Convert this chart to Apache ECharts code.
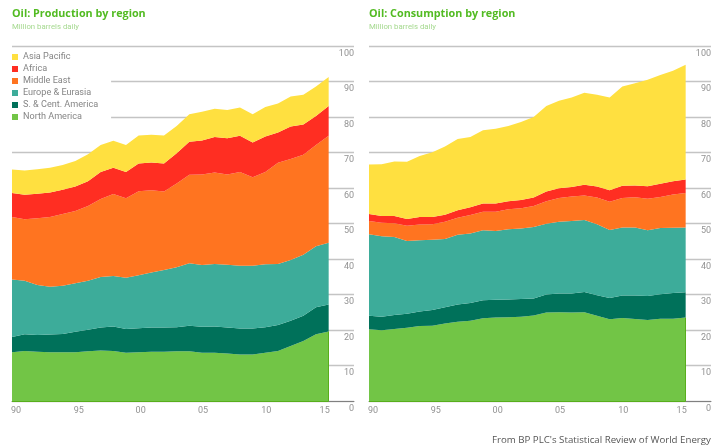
<!DOCTYPE html>
<html>
<head>
<meta charset="utf-8">
<style>html,body{margin:0;padding:0;background:#fff}#chart{width:720px;height:447px}</style>
<script src="https://cdn.jsdelivr.net/npm/echarts@6/dist/echarts.min.js"></script>
</head>
<body>
<div id="chart"></div>
<script>
const years = ['1990','1991','1992','1993','1994','1995','1996','1997','1998','1999','2000','2001','2002','2003','2004','2005','2006','2007','2008','2009','2010','2011','2012','2013','2014','2015'];
// two empty slots after 2015 so the gridlines run on past the areas, under the value labels
const axisYears = [...years, '2016', '2017'];
const regions = ['North America','S. & Cent. America','Europe & Eurasia','Middle East','Africa','Asia Pacific'];
const colors = ['#72c546','#00715a','#3dac9a','#ff7420','#ff2e22','#ffe040'];

const prodNorthAmerica = [13.7,14.1,13.9,13.7,13.7,13.7,14.0,14.2,14.1,13.6,13.7,13.9,13.9,14.0,14.0,13.6,13.6,13.4,13.1,13.1,13.6,14.1,15.5,16.9,18.8,19.6];
const prodSouthCentral = [4.3,4.7,4.7,5.0,5.2,5.8,6.1,6.5,6.9,6.7,6.8,6.8,6.8,6.8,7.2,7.3,7.4,7.3,7.3,7.3,7.2,7.3,7.1,7.1,7.6,7.6];
const prodEurope = [16.2,15.1,14.1,13.5,13.6,13.7,13.8,14.2,14.2,14.4,14.9,15.5,16.2,16.9,17.6,17.4,17.6,17.7,17.7,17.7,17.7,17.2,17.1,17.2,17.2,17.4];
const prodMiddleEast = [17.6,17.3,18.8,19.6,20.2,20.3,21.0,22.0,23.1,22.4,23.7,23.2,22.1,23.6,24.9,25.5,25.8,25.4,26.4,24.9,26.0,28.5,28.5,28.2,28.5,30.1];
const prodAfrica = [6.8,6.9,6.9,6.9,6.8,6.9,7.0,7.6,7.4,7.4,7.8,7.8,7.9,8.5,9.3,9.6,10.0,10.2,10.2,9.8,10.0,8.5,9.1,8.5,8.2,8.4];
const prodAsia = [6.6,6.8,6.9,7.0,7.0,7.2,7.6,7.6,7.6,7.6,7.9,7.8,7.9,7.7,7.8,8.1,7.9,8.0,8.0,8.0,8.3,8.2,8.5,8.4,8.3,8.2];

const consNorthAmerica = [20.2,19.9,20.3,20.6,21.1,21.2,21.8,22.3,22.6,23.3,23.5,23.6,23.7,24.1,24.9,25.0,24.9,25.0,24.0,23.0,23.4,23.1,22.8,23.2,23.2,23.5];
const consSouthCentral = [3.8,3.8,3.9,4.0,4.1,4.4,4.6,4.9,5.0,5.1,5.0,5.0,5.0,4.8,5.1,5.3,5.4,5.7,5.8,6.0,6.3,6.6,6.8,6.9,7.2,7.1];
const consEurope = [23.0,22.7,22.0,20.5,20.1,19.8,19.2,19.6,19.6,19.7,19.4,19.8,19.9,20.1,19.9,20.2,20.4,20.3,20.0,19.2,19.2,19.2,18.5,18.6,18.4,18.3];
const consMiddleEast = [3.7,3.8,3.9,4.3,4.4,4.4,4.9,4.8,5.2,5.2,5.4,5.6,5.7,5.9,6.4,6.7,6.9,6.9,7.5,7.9,8.3,8.5,8.9,8.8,9.4,9.7];
const consAfrica = [2.0,1.9,2.0,1.9,2.1,2.0,2.0,2.1,2.2,2.3,2.3,2.3,2.3,2.4,2.7,2.7,2.7,3.0,3.1,3.3,3.4,3.3,3.5,3.7,3.7,3.8];
const consAsia = [13.9,14.6,15.4,16.1,17.2,18.3,19.2,20.1,19.8,20.7,21.1,21.2,22.0,22.7,24.1,24.7,25.2,25.9,25.9,26.1,28.0,28.8,30.0,30.6,31.1,32.3];

const production = [prodNorthAmerica, prodSouthCentral, prodEurope, prodMiddleEast, prodAfrica, prodAsia];
const consumption = [consNorthAmerica, consSouthCentral, consEurope, consMiddleEast, consAfrica, consAsia];

const labelFont = 'Roboto, sans-serif';
const greyText = '#929292';

// the year labels drift in from the tick positions, first one flush left, last flush right
const yearLabel = (v) => '{y' + v + '|' + v.slice(2) + '}';
const yearRich = {
    y1990: { padding: [0, 0, 0, 8] },
    y1995: { padding: [0, 0, 0, 7] },
    y2000: { padding: [0, 0, 0, 4] },
    y2005: { padding: [0, 0, 0, 2] },
    y2010: { padding: [0, 0, 0, 2] },
    y2015: { padding: [0, 8, 0, 0] }
};

const makeAxes = (idx) => ({
    x: {
        gridIndex: idx, type: 'category', data: axisYears, boundaryGap: false,
        axisLine: { show: true, onZero: false, lineStyle: { color: '#808080', width: 1 } },
        axisTick: { show: false }, splitLine: { show: false },
        axisLabel: {
            interval: (i) => i % 5 === 0 && i < years.length,
            formatter: yearLabel, rich: yearRich, color: greyText, fontFamily: labelFont, fontSize: 9, margin: 5
        }
    },
    y: {
        gridIndex: idx, type: 'value', position: 'right', min: 0, max: 100, interval: 10,
        axisLine: { show: false }, axisTick: { show: false },
        splitLine: { show: true, lineStyle: { color: '#c4c4c4', width: 1.3 } },
        axisLabel: { inside: true, margin: 0, align: 'right', verticalAlign: 'top', padding: [3, 0, 0, 0], color: greyText, fontFamily: labelFont, fontSize: 9 }
    }
});

// darker green edge along the bottom and right of the lowest area
const greenEdge = (values) => {
    const last = years[years.length - 1];
    return {
        silent: true, symbol: 'none', label: { show: false },
        lineStyle: { color: '#58ae1c', width: 1, type: 'solid' },
        data: [
            [{ coord: [years[0], 0] }, { coord: [last, 0] }],
            [{ coord: [last, 0] }, { coord: [last, values[values.length - 1]] }]
        ]
    };
};

const makeSeries = (table, idx) => regions.map((name, i) => ({
    name,
    type: 'line',
    xAxisIndex: idx,
    yAxisIndex: idx,
    stack: 'total' + idx,
    showSymbol: false,
    silent: true,
    color: colors[i],
    lineStyle: { width: 0 },
    areaStyle: { color: colors[i], opacity: 1 },
    markLine: i === 0 ? greenEdge(table[0]) : undefined,
    data: table[i]
}));

const axesA = makeAxes(0), axesB = makeAxes(1);

const chartTitle = (text, left) => ({
    text, subtext: 'Million barrels daily', left, top: 8, padding: 0, itemGap: 4,
    textStyle: { color: '#52bb22', fontFamily: 'Open Sans', fontWeight: 'bold', fontSize: 10.8 },
    subtextStyle: { color: '#a5d98f', fontFamily: labelFont, fontSize: 7.8 }
});

const chart = echarts.init(document.getElementById('chart'));
chart.setOption({
    animation: false,
    backgroundColor: '#fff',
    title: [
        chartTitle('Oil: Production by region', 12),
        chartTitle('Oil: Consumption by region', 369),
        { text: "From BP PLC's Statistical Review of World Energy", left: 492, top: 435, padding: 0,
          textStyle: { color: '#555', fontFamily: 'Open Sans', fontWeight: 'normal', fontSize: 9.7 } }
    ],
    legend: {
        orient: 'vertical', left: 12, top: 51,
        data: regions.slice().reverse(),
        icon: 'rect', itemWidth: 6, itemHeight: 6, itemGap: 2,
        padding: [1, 13, 4, 0],
        backgroundColor: '#fff',
        selectedMode: false,
        textStyle: { color: '#858585', fontFamily: labelFont, fontSize: 9.1, lineHeight: 10 }
    },
    grid: [
        { left: 12, top: 46, width: 342, height: 355 },
        { left: 369, top: 46, width: 342, height: 355 }
    ],
    xAxis: [axesA.x, axesB.x],
    yAxis: [axesA.y, axesB.y],
    series: [...makeSeries(production, 0), ...makeSeries(consumption, 1)]
});
</script>
</body>
</html>
